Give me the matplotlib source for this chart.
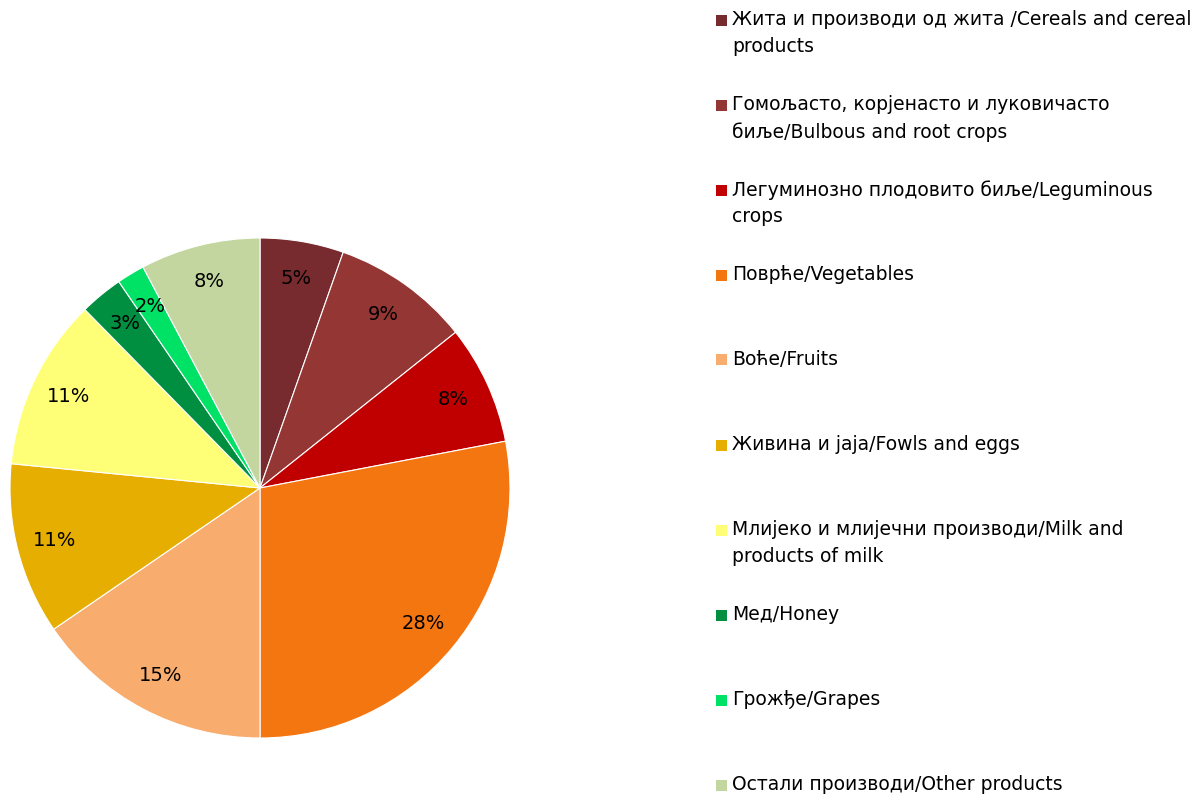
import matplotlib.pyplot as plt
from matplotlib.patches import Rectangle

plt.rcParams['font.family'] = ['DejaVu Sans']

# shares of each product group (percent)
labels = [
    "Жита и производи од жита /Cereals and cereal\nproducts",
    "Гомољасто, корјенасто и луковичасто\nбиље/Bulbous and root crops",
    "Легуминозно плодовито биље/Leguminous\ncrops",
    "Поврће/Vegetables",
    "Воће/Fruits",
    "Живина и jaja/Fowls and eggs",
    "Млијеко и млијечни производи/Milk and\nproducts of milk",
    "Мед/Honey",
    "Грожђе/Grapes",
    "Остали производи/Other products",
]
values = [5.4, 8.9, 7.7, 28.0, 15.45, 11.1, 11.1, 2.8, 1.8, 7.75]
colors = ["#772B2E", "#943634", "#C00000", "#F47611", "#F8AC6E",
          "#E6AE00", "#FFFF77", "#008F41", "#00E266", "#C4D69F"]

W, H = 1197, 796
fig = plt.figure(figsize=(W / 100, H / 100), dpi=100)

# pie: center (260, 488) px, radius 250 px
cx, cy, r = 260, 488, 250
ax = fig.add_axes([(cx - r) / W, (H - cy - r) / H, 2 * r / W, 2 * r / H])
wedges, texts, autotexts = ax.pie(
    values, colors=colors, startangle=90, counterclock=False,
    autopct=lambda p: f"{p:.0f}%", pctdistance=0.85,
    wedgeprops=dict(edgecolor="white", linewidth=0.8),
    textprops=dict(fontsize=14, color="black"))
ax.set_xlim(-1, 1)
ax.set_ylim(-1, 1)

# legend, drawn by hand so the marker sits on the first line
first_y = 20
step = 85
for i, (lab, col) in enumerate(zip(labels, colors)):
    y = first_y + i * step
    fig.patches.append(Rectangle((716 / W, (H - y - 5.5) / H), 11 / W, 11 / H,
                                 transform=fig.transFigure, facecolor=col,
                                 edgecolor="none"))
    fig.text(732 / W, (H - y + 10) / H, lab, fontsize=13.5, va="top", ha="left",
             linespacing=1.5)

fig.savefig("out.png", dpi=100)
